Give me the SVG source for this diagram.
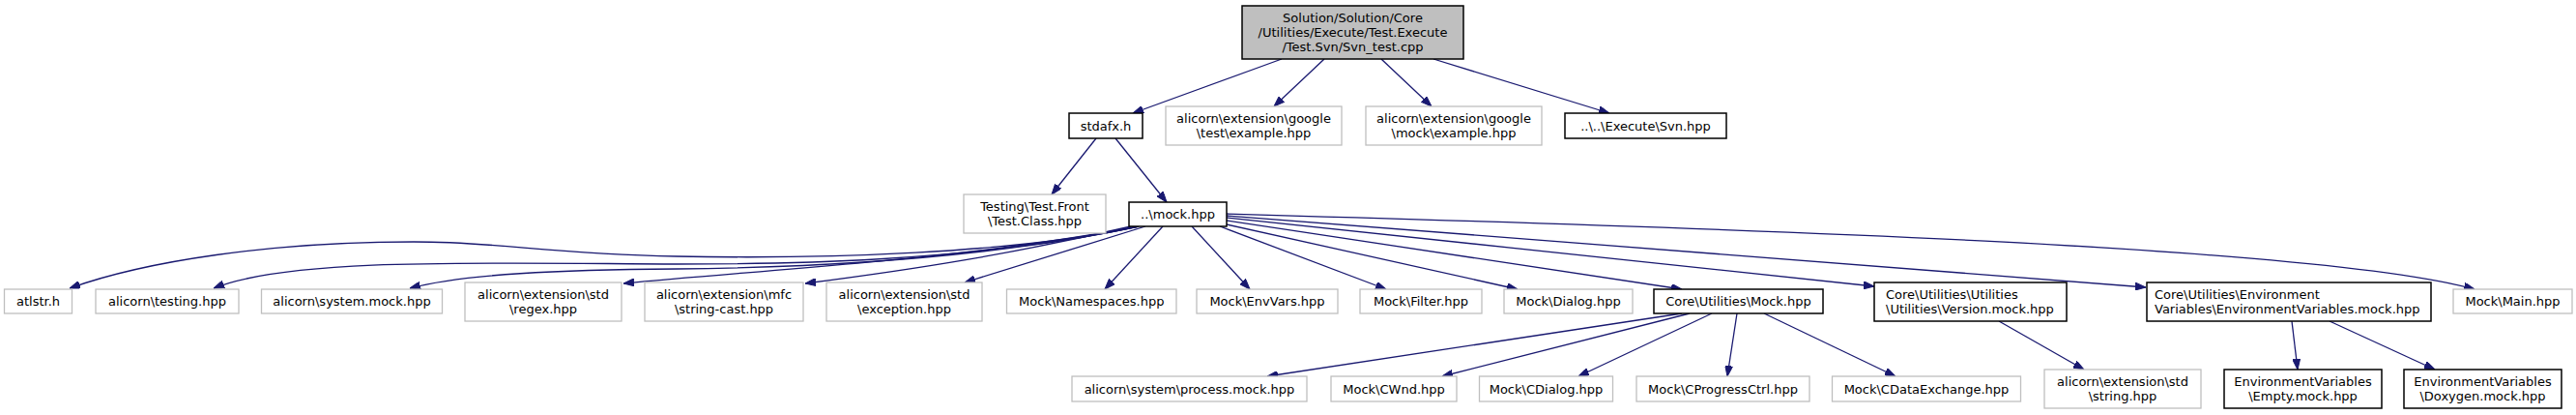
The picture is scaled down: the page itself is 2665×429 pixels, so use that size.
<svg xmlns="http://www.w3.org/2000/svg" width="2665" height="429" viewBox="0 0 2665 429">
<style>
text{font-family:"DejaVu Sans","Liberation Sans",sans-serif;font-size:13px;fill:#000;text-anchor:middle}
text.l{text-anchor:start}
.g rect{fill:#fff;stroke:#bfbfbf;stroke-width:1.3}
.d rect{fill:#fff;stroke:#000;stroke-width:1.5}
.r rect{fill:#bfbfbf;stroke:#000;stroke-width:1.5}
#edges path{fill:none;stroke:#191970;stroke-width:1.3;marker-end:url(#ah)}
</style>
<defs>
<marker id="ah" viewBox="0 0 11 8" refX="11" refY="4" markerWidth="11" markerHeight="8" markerUnits="userSpaceOnUse" orient="auto"><path d="M0,0 L11,4 L0,8 z" fill="#191970" stroke="#191970" stroke-width="1"/></marker>
</defs>
<rect width="2665" height="429" fill="#fff"/>
<g id="edges">
<path d="M1326,61 L1172,117"/>
<path d="M1370,61 L1318,110"/>
<path d="M1429,61 L1481,110"/>
<path d="M1483,61 L1665,117"/>
<path d="M1134,143 L1088,201"/>
<path d="M1154,143 L1207,209"/>
<path d="M1178,234 C1050,262 850,268 700,265 C560,262 520,250 428,250 C280,250 150,270 72,298"/>
<path d="M1178,234 C1000,272 800,273 700,273 C500,272 300,266 221,298"/>
<path d="M1178,234 C1000,272 800,277 700,278 C580,279 480,283 424,298"/>
<path d="M1178,234 C1000,268 800,278 645,293"/>
<path d="M1170,234 C1050,262 950,278 833,293"/>
<path d="M1185,234 L998,292"/>
<path d="M1203,234 L1143,299"/>
<path d="M1233,234 L1293,299"/>
<path d="M1262,234 L1434,299"/>
<path d="M1269,232 L1570,299"/>
<path d="M1269,228 L1740,299"/>
<path d="M1269,225 L1939,296"/>
<path d="M1269,223 L2220,297"/>
<path d="M1269,221 C1800,236 2400,255 2560,299"/>
<path d="M1740,324 L1311,389"/>
<path d="M1748,324 L1492,389"/>
<path d="M1771,324 L1633,389"/>
<path d="M1797,324 L1787,389"/>
<path d="M1825,324 L1961,389"/>
<path d="M2068,332 L2156,382"/>
<path d="M2371,332 L2377,382"/>
<path d="M2410,332 L2519,382"/>
</g>
<g id="n_top" class="r"><rect x="1285" y="6" width="229" height="55"/><text x="1399.5" y="23">Solution/Solution/Core</text><text x="1399.5" y="38">/Utilities/Execute/Test.Execute</text><text x="1399.5" y="53">/Test.Svn/Svn_test.cpp</text></g>
<g id="n_stdafx" class="d"><rect x="1106" y="117" width="76" height="26"/><text x="1144" y="134.5">stdafx.h</text></g>
<g id="n_gtest" class="g"><rect x="1206" y="110" width="182" height="40"/><text x="1297" y="127">alicorn\extension\google</text><text x="1297" y="142">\test\example.hpp</text></g>
<g id="n_gmock" class="g"><rect x="1413" y="110" width="182" height="40"/><text x="1504" y="127">alicorn\extension\google</text><text x="1504" y="142">\mock\example.hpp</text></g>
<g id="n_svn" class="d"><rect x="1619" y="117" width="167" height="26"/><text x="1702.5" y="134.5">..\..\Execute\Svn.hpp</text></g>
<g id="n_testclass" class="g"><rect x="997" y="201" width="147" height="40"/><text x="1070.5" y="218">Testing\Test.Front</text><text x="1070.5" y="233">\Test.Class.hpp</text></g>
<g id="n_mock" class="d"><rect x="1168" y="209" width="101" height="25"/><text x="1218.5" y="226">..\mock.hpp</text></g>
<g id="n_atlstr" class="g"><rect x="4.5" y="299" width="70" height="25"/><text x="39.5" y="316">atlstr.h</text></g>
<g id="n_testing" class="g"><rect x="99" y="299" width="148" height="25"/><text x="173" y="316">alicorn\testing.hpp</text></g>
<g id="n_sysmock" class="g"><rect x="270.5" y="299" width="187" height="25"/><text x="364" y="316">alicorn\system.mock.hpp</text></g>
<g id="n_regex" class="g"><rect x="481" y="292" width="162" height="40"/><text x="562" y="309">alicorn\extension\std</text><text x="562" y="324">\regex.hpp</text></g>
<g id="n_mfc" class="g"><rect x="667" y="292" width="164" height="40"/><text x="749" y="309">alicorn\extension\mfc</text><text x="749" y="324">\string-cast.hpp</text></g>
<g id="n_exception" class="g"><rect x="855" y="292" width="161" height="40"/><text x="935.5" y="309">alicorn\extension\std</text><text x="935.5" y="324">\exception.hpp</text></g>
<g id="n_namespaces" class="g"><rect x="1041.5" y="299" width="175.5" height="25"/><text x="1129.25" y="316">Mock\Namespaces.hpp</text></g>
<g id="n_envvars" class="g"><rect x="1238" y="299" width="146" height="25"/><text x="1311" y="316">Mock\EnvVars.hpp</text></g>
<g id="n_filter" class="g"><rect x="1407" y="299" width="126" height="25"/><text x="1470" y="316">Mock\Filter.hpp</text></g>
<g id="n_dialog" class="g"><rect x="1556" y="299" width="133" height="25"/><text x="1622.5" y="316">Mock\Dialog.hpp</text></g>
<g id="n_coremock" class="d"><rect x="1711" y="299" width="175" height="25"/><text x="1798.5" y="316">Core\Utilities\Mock.hpp</text></g>
<g id="n_version" class="d"><rect x="1939" y="292" width="199" height="40"/><text class="l" x="1951" y="309">Core\Utilities\Utilities</text><text class="l" x="1951" y="324">\Utilities\Version.mock.hpp</text></g>
<g id="n_envmock" class="d"><rect x="2221" y="292" width="294" height="40"/><text class="l" x="2229" y="309">Core\Utilities\Environment</text><text class="l" x="2229" y="324">Variables\EnvironmentVariables.mock.hpp</text></g>
<g id="n_main" class="g"><rect x="2538" y="299" width="123" height="25"/><text x="2599.5" y="316">Mock\Main.hpp</text></g>
<g id="n_process" class="g"><rect x="1109" y="389" width="243" height="26"/><text x="1230.5" y="406.5">alicorn\system\process.mock.hpp</text></g>
<g id="n_cwnd" class="g"><rect x="1377" y="389" width="130" height="26"/><text x="1442" y="406.5">Mock\CWnd.hpp</text></g>
<g id="n_cdialog" class="g"><rect x="1530.5" y="389" width="138" height="26"/><text x="1599.5" y="406.5">Mock\CDialog.hpp</text></g>
<g id="n_cprogress" class="g"><rect x="1693" y="389" width="179" height="26"/><text x="1782.5" y="406.5">Mock\CProgressCtrl.hpp</text></g>
<g id="n_cdata" class="g"><rect x="1895.5" y="389" width="195" height="26"/><text x="1993" y="406.5">Mock\CDataExchange.hpp</text></g>
<g id="n_string" class="g"><rect x="2115" y="382" width="162" height="40"/><text x="2196" y="399">alicorn\extension\std</text><text x="2196" y="414">\string.hpp</text></g>
<g id="n_empty" class="d"><rect x="2301" y="382" width="163" height="40"/><text x="2382.5" y="399">EnvironmentVariables</text><text x="2382.5" y="414">\Empty.mock.hpp</text></g>
<g id="n_doxygen" class="d"><rect x="2487" y="382" width="163" height="40"/><text x="2568.5" y="399">EnvironmentVariables</text><text x="2568.5" y="414">\Doxygen.mock.hpp</text></g>
</svg>
